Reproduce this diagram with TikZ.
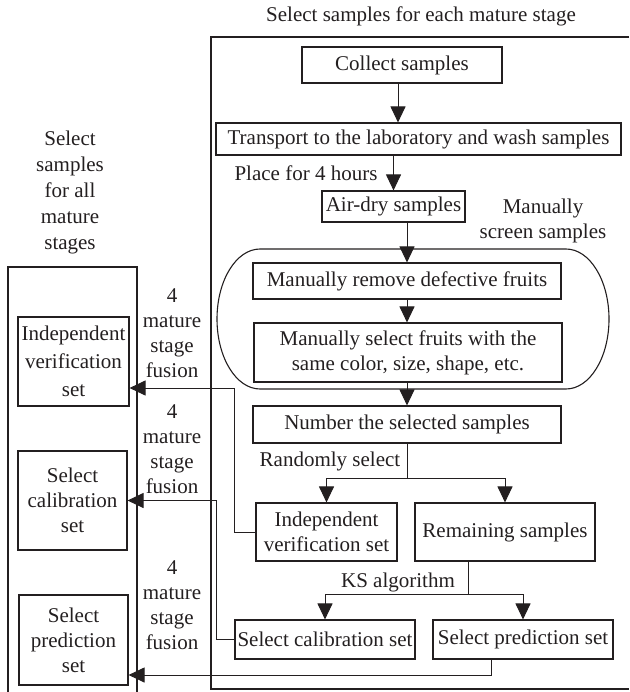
\documentclass[tikz,border=0pt]{standalone}
\usepackage{fontspec}
\setmainfont{Liberation Serif}
\usetikzlibrary{arrows.meta}
\definecolor{ink}{HTML}{231F20}
\tikzset{
  txt/.style={inner sep=0pt, align=center, text=ink, font=\fontsize{21}{25}\selectfont},
  box/.style={txt, draw=ink, line width=1.1pt},
  frame/.style={draw=ink, line width=1.1pt},
  conn/.style={draw=ink, line width=1pt},
  arr/.style={conn, -{Triangle[length=16pt,width=15pt]}}
}
\begin{document}
\begin{tikzpicture}[x=1pt,y=-1pt]
\useasboundingbox (0,0) rectangle (629,692);
% frames
\draw[frame] (629,37) -- (211,37) -- (211,689) -- (629,689);
\draw[frame] (8,692) -- (8,267) -- (137,267) -- (137,692);
\draw[frame] (260,249) -- (566,249) arc[start angle=-90,end angle=90,x radius=43,y radius=70]
  -- (260,389) arc[start angle=90,end angle=270,x radius=43,y radius=70] -- cycle;
% titles
\node[txt] (ttlR) at (421,16) {Select samples for each mature stage};
\node[txt, font=\fontsize{21}{26}\selectfont] (ttlL) at (70,192) {Select\\samples\\for all\\mature\\stages};
% right column boxes
\node[box, minimum width=200, minimum height=36] (collect) at (402,65) {Collect samples};
\node[box, minimum width=405, minimum height=32] (transport) at (418.5,139) {Transport to the laboratory and wash samples};
\node[box, minimum width=143, minimum height=31] (air) at (393.5,206.5) {Air-dry samples};
\node[box, minimum width=308, minimum height=36] (remove) at (407,281) {Manually remove defective fruits};
\node[box, minimum width=308, minimum height=59] (msel) at (408,352.5) {Manually select fruits with the\\same color, size, shape, etc.};
\node[box, minimum width=308, minimum height=37] (number) at (407,424.5) {Number the selected samples};
\node[box, minimum width=141, minimum height=58] (indepR) at (326.5,532) {Independent\\verification set};
\node[box, minimum width=180, minimum height=58] (remain) at (505,532) {Remaining samples};
\node[box, minimum width=180, minimum height=39] (calR) at (325,639.5) {Select calibration set};
\node[box, minimum width=180, minimum height=39] (predR) at (523,639.5) {Select prediction set};
% left column boxes
\node[box, minimum width=111, minimum height=89, font=\fontsize{21}{28}\selectfont] (indepL) at (73.5,361.5) {Independent\\verification\\set};
\node[box, minimum width=109, minimum height=99] (calL) at (72.5,500.5) {Select\\calibration\\set};
\node[box, minimum width=109, minimum height=90] (predL) at (73.5,640) {Select\\prediction\\set};
% labels
\node[txt] (lplace) at (306,173) {Place for 4 hours};
\node[txt] (lscreen) at (543,221) {Manually\\screen samples};
\node[txt] (lrand) at (330,461) {Randomly select};
\node[txt] (lks) at (398,582) {KS algorithm};
\node[txt] (f1) at (172,333) {4\\mature\\stage\\fusion};
\node[txt] (f2) at (172,449.5) {4\\mature\\stage\\fusion};
\node[txt] (f3) at (172,605.5) {4\\mature\\stage\\fusion};
% connectors
\draw[arr] ([xshift=-4pt]collect.south) -- ([xshift=-4pt]collect.south |- transport.north);
\draw[arr] (air.north |- transport.south) -- (air.north);
\draw[arr] (remove.north |- air.south) -- (remove.north);
\draw[arr] (remove.south) -- (remove.south |- msel.north);
\draw[arr] (number.north |- msel.south) -- (number.north);
\draw[conn] (number.south) -- ++(0,35) coordinate (s1);
\draw[arr] (s1) -| (indepR.north);
\draw[arr] (s1) -| (remain.north);
\draw[conn] ([xshift=-37pt]remain.south) -- ++(0,33) coordinate (s2);
\draw[arr] (s2) -| (calR.north);
\draw[arr] (s2) -| (predR.north);
\draw[arr] (indepR.west) -- ++(-21,0) |- ([yshift=-26.5pt]indepL.east);
\draw[arr] (calR.west) -- ++(-18,0) |- (calL.east);
\draw[arr] ([xshift=-32pt]predR.south) |- ([yshift=-35pt]predL.east);
\end{tikzpicture}
\end{document}
